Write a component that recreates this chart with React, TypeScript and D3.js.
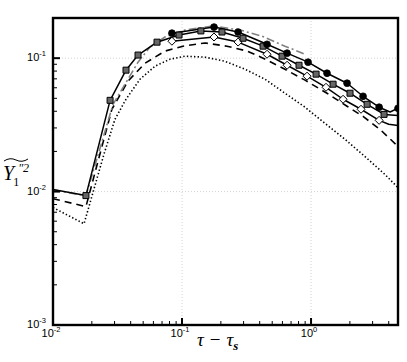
import * as d3 from 'd3'

// tau - tau_s, one array per curve
const squareX = [0.01, 0.018, 0.0277, 0.0368, 0.0456, 0.064, 0.0948, 0.14, 0.204, 0.297, 0.425, 0.596, 0.807, 1.094, 1.482, 2.005, 2.72, 3.68, 4.72]
const squareY = [0.01035, 0.00933, 0.0483, 0.0813, 0.1055, 0.1318, 0.149, 0.16, 0.157, 0.141, 0.123, 0.1035, 0.0885, 0.0759, 0.0638, 0.0546, 0.0451, 0.0379, 0.0372]

const circleX = [0.0835, 0.177, 0.272, 0.456, 0.652, 0.948, 1.33, 1.902, 2.53, 3.37, 4.1, 4.72]
const circleY = [0.154, 0.171, 0.157, 0.127, 0.109, 0.0933, 0.0771, 0.0649, 0.0518, 0.0429, 0.0395, 0.0421]

const diamondX = [0.0835, 0.177, 0.272, 0.456, 0.652, 0.931, 1.306, 1.771, 2.44, 3.37, 4.0, 4.72]
const diamondY = [0.134, 0.144, 0.132, 0.107, 0.0885, 0.0733, 0.0605, 0.0492, 0.0414, 0.0342, 0.032, 0.0313]

const dashedX = [0.01, 0.018, 0.0286, 0.0381, 0.0516, 0.0738, 0.1018, 0.151, 0.223, 0.319, 0.425, 0.628, 0.898, 1.33, 1.9, 2.53, 3.43, 4.72]
const dashedY = [0.00885, 0.00771, 0.0414, 0.0672, 0.0916, 0.113, 0.123, 0.13, 0.123, 0.113, 0.1, 0.0826, 0.0684, 0.0546, 0.0436, 0.0366, 0.0292, 0.0218]

const dottedX = [0.01, 0.0174, 0.0248, 0.0302, 0.0368, 0.0472, 0.0618, 0.0807, 0.1055, 0.151, 0.215, 0.308, 0.44, 0.628, 0.898, 1.284, 1.836, 2.62, 3.75, 4.72]
const dottedY = [0.00759, 0.00574, 0.019, 0.0348, 0.0492, 0.0695, 0.0871, 0.0982, 0.1035, 0.1017, 0.0948, 0.0826, 0.0695, 0.0546, 0.0429, 0.0324, 0.0246, 0.0183, 0.0134, 0.0107]

const dashDotX = [0.01, 0.018, 0.0292, 0.0381, 0.0456, 0.0565, 0.0738, 0.1055, 0.174, 0.282, 0.417, 0.628, 0.898]
const dashDotY = [0.0103, 0.0093, 0.0451, 0.0695, 0.0933, 0.121, 0.144, 0.1626, 0.174, 0.1626, 0.146, 0.123, 0.107]

// points of the line that carry no symbol
const squareBare = [0, 18]
const circleBare = [10]
const diamondBare = [10, 11]

const xMajor = [0.01, 0.1, 1]
const yMajor = [0.001, 0.01, 0.1]
const xExp = ['-2', '-1', '0']
const yExp = ['-3', '-2', '-1']

const W = 407
const H = 362
const pad = { l: 53, r: 9, t: 18, b: 37 }

const zip = (xs: number[], ys: number[]) => xs.map((x, i) => [x, ys[i]] as [number, number])

export default function App() {
  const x = d3.scaleLog().domain([0.01, 4.72]).range([pad.l, W - pad.r])
  const y = d3.scaleLog().domain([0.001, 0.2]).range([H - pad.b, pad.t])
  const line = d3.line<[number, number]>()
    .x(d => x(d[0]))
    .y(d => y(d[1]))

  const marks = (xs: number[], ys: number[], bare: number[]) =>
    zip(xs, ys).filter((_, i) => !bare.includes(i))

  const x0 = pad.l, x1 = W - pad.r, y0 = H - pad.b, y1 = pad.t
  const xMinor = x.ticks().filter(t => !xMajor.includes(t))
  const yMinor = y.ticks().filter(t => !yMajor.includes(t))

  return (
    <svg width={W} height={H} style={{ position: 'absolute', left: 0, top: 0, background: '#fff' }}
      fontFamily="'Liberation Sans', Arial, sans-serif">
      <defs>
        <clipPath id="plot">
          <rect x={x0} y={y1} width={x1 - x0} height={y0 - y1} />
        </clipPath>
      </defs>

      {/* grid */}
      {xMajor.slice(1).map(t => (
        <line key={'gx' + t} x1={x(t)} x2={x(t)} y1={y1} y2={y0} stroke="#c8c8c8" strokeWidth={0.8} strokeDasharray="1,2" />
      ))}
      {yMajor.slice(1).map(t => (
        <line key={'gy' + t} x1={x0} x2={x1} y1={y(t)} y2={y(t)} stroke="#c8c8c8" strokeWidth={0.8} strokeDasharray="1,2" />
      ))}

      <g clipPath="url(#plot)" fill="none" stroke="#000" strokeLinejoin="round">
        <path d={line(zip(dottedX, dottedY)) ?? ''} strokeWidth={1.6} strokeDasharray="1.4,2.2" />
        <path d={line(zip(dashedX, dashedY)) ?? ''} strokeWidth={1.6} strokeDasharray="7,5" />
        <path d={line(zip(dashDotX, dashDotY)) ?? ''} stroke="#808080" strokeWidth={1.6} strokeDasharray="8,3,2,3" />
        <path d={line(zip(diamondX, diamondY)) ?? ''} strokeWidth={1.5} />
        <path d={line(zip(squareX, squareY)) ?? ''} strokeWidth={1.5} />
        <path d={line(zip(circleX, circleY)) ?? ''} strokeWidth={1.5} />

        {marks(diamondX, diamondY, diamondBare).map((d, i) => (
          <path key={'dm' + i} transform={`translate(${x(d[0])},${y(d[1])})`} d="M0,-4L4,0L0,4L-4,0Z" fill="#fff" strokeWidth={1} />
        ))}
        {marks(squareX, squareY, squareBare).map((d, i) => (
          <rect key={'sq' + i} x={x(d[0]) - 3} y={y(d[1]) - 3} width={6} height={6} fill="#666" strokeWidth={1} />
        ))}
        {marks(circleX, circleY, circleBare).map((d, i) => (
          <circle key={'ci' + i} cx={x(d[0])} cy={y(d[1])} r={3.4} fill="#000" strokeWidth={0.8} />
        ))}
      </g>

      {/* ticks */}
      <g stroke="#000">
        {xMinor.map(t => <line key={'xm' + t} x1={x(t)} x2={x(t)} y1={y0} y2={y0 - 4} strokeWidth={1} />)}
        {xMajor.map(t => <line key={'xM' + t} x1={x(t)} x2={x(t)} y1={y0} y2={y0 - 7} strokeWidth={2} />)}
        {yMinor.map(t => <line key={'ym' + t} x1={x0} x2={x0 + 4} y1={y(t)} y2={y(t)} strokeWidth={1} />)}
        {yMajor.map(t => <line key={'yM' + t} x1={x0} x2={x0 + 7} y1={y(t)} y2={y(t)} strokeWidth={2} />)}
      </g>

      <rect x={x0} y={y1} width={x1 - x0} height={y0 - y1} fill="none" stroke="#000" strokeWidth={2.4} />

      {/* tick labels */}
      {xMajor.map((t, i) => (
        <text key={'xl' + t} x={x(t) - 2} y={y0 + 12} fontSize={11} textAnchor="middle" fill="#000">
          10<tspan dy={-5} fontSize={7.5}>{xExp[i]}</tspan>
        </text>
      ))}
      {yMajor.map((t, i) => (
        <text key={'yl' + t} x={x0 - 7} y={y(t) + 3} fontSize={11} textAnchor="end" fill="#000">
          10<tspan dy={-5} fontSize={7.5}>{yExp[i]}</tspan>
        </text>
      ))}

      {/* axis titles */}
      <text x={197} y={346} fontFamily="'Liberation Serif', 'DejaVu Serif', serif" fontStyle="italic" fontSize={19} fill="#000">
        τ<tspan dx={6} fontStyle="normal">−</tspan><tspan dx={6}>τ</tspan><tspan dy={4} fontSize={13} fontWeight="bold">s</tspan>
      </text>
      <g fontFamily="'Liberation Serif', 'DejaVu Serif', serif" fill="#000">
        <path d="M4,161 q6,-4 12,-1 t12,-1" fill="none" stroke="#000" strokeWidth={1} />
        <text x={3} y={180} fontStyle="italic" fontSize={20}>
          Y<tspan dx={-1} dy={6} fontStyle="normal" fontSize={12}>1</tspan>
          <tspan dx={-1} dy={-14} fontSize={12}>″2</tspan>
        </text>
      </g>
    </svg>
  )
}
